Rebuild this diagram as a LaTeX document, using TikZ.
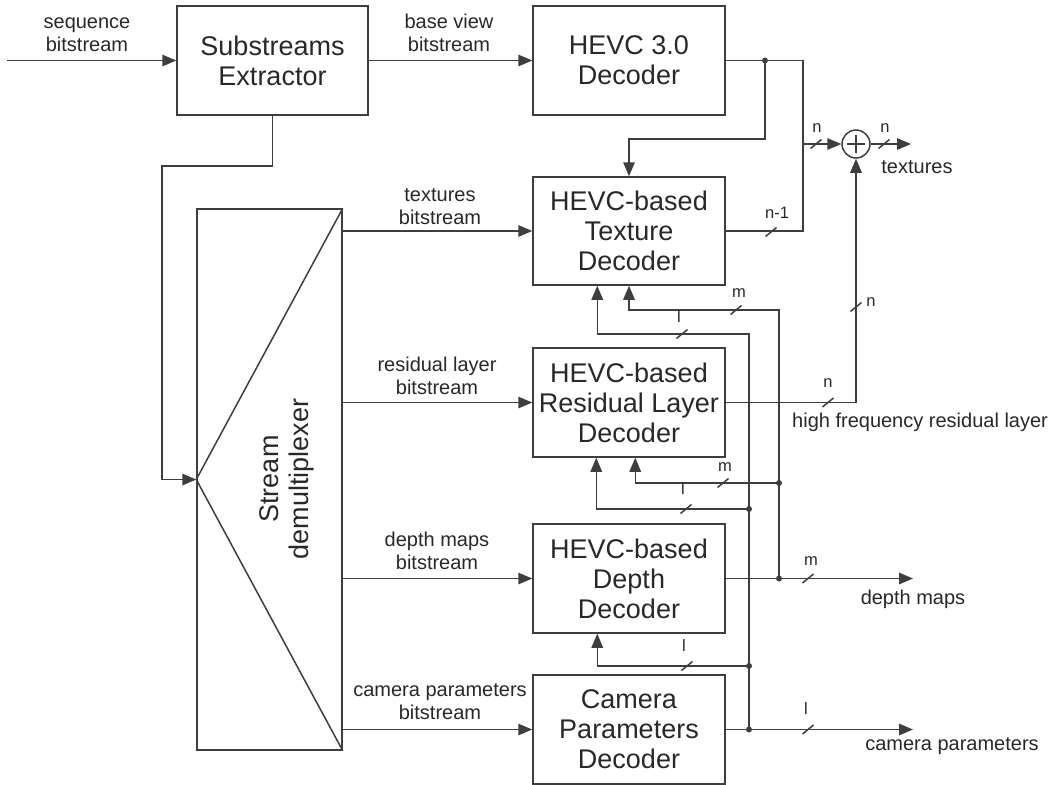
\documentclass[tikz,border=0pt]{standalone}
\usepackage{fontspec}
\setmainfont{Liberation Sans}
\usetikzlibrary{arrows.meta,calc}
\definecolor{ln}{RGB}{62,62,62}
\definecolor{tx}{RGB}{40,40,40}
\newcommand\busmark[1]{\draw[wire] ($(#1)+(-5.5,4.5)$) -- ($(#1)+(5.5,-4.5)$);}
\begin{document}
\begin{tikzpicture}[x=1pt,y=-1pt,
  wire/.style={draw=ln,line width=1.5pt},
  arr/.style={wire,-{Triangle[length=14pt,width=11.5pt]}},
  box/.style={draw=ln,line width=1.5pt,minimum width=192pt,minimum height=109pt,align=center,text=tx,font=\fontsize{27}{30}\selectfont,inner sep=0pt},
  lab/.style={text=tx,font=\fontsize{20}{23.5}\selectfont,align=center,inner sep=0pt},
  labone/.style={text=tx,font=\fontsize{20}{23.5}\selectfont,inner sep=0pt,text height=0.7em,text depth=0.2em},
  tiny/.style={text=tx,font=\fontsize{16.5}{18}\selectfont,inner sep=0pt,text height=0.7em,text depth=0.2em},
  dot/.style={circle,fill=ln,inner sep=0pt,minimum size=6pt}]
\useasboundingbox (0,0) rectangle (1061,785);

% blocks
\node[box,minimum width=191pt] (sub) at (272.5,60.5) {Substreams\\Extractor};
\node[box] (hevc) at (629,60.5) {HEVC 3.0\\Decoder};
\node[box,minimum height=108pt] (tex) at (629,231) {HEVC-based\\Texture\\Decoder};
\node[box] (res) at (629,402.5) {HEVC-based\\Residual Layer\\Decoder};
\node[box] (dep) at (629,578.5) {HEVC-based\\Depth\\Decoder};
\node[box] (cam) at (629,729.5) {Camera\\Parameters\\Decoder};
\node[draw=ln,line width=1.5pt,minimum width=145pt,minimum height=541pt,inner sep=0pt] (dmx) at (269.5,479.5) {};
\draw[wire] (dmx.north east) -- (dmx.west) -- (dmx.south east);
\node[rotate=90,align=center,text=tx,font=\fontsize{27}{30}\selectfont,inner sep=0pt] (dtx) at (287,479) {\strut Stream\\\strut demultiplexer};
\node[circle,draw=ln,line width=1.5pt,minimum size=28pt,inner sep=0pt] (sum) at (856,144) {};
\draw[wire] ($(sum.center)+(-9,0)$) -- ($(sum.center)+(9,0)$);
\draw[wire] ($(sum.center)+(0,-9)$) -- ($(sum.center)+(0,9)$);

% junction points
\coordinate (in) at (7,60.5);
\coordinate (k1) at (162,166);
\coordinate (h1) at (765,60.5);
\coordinate (h2) at (803,60.5);
\coordinate (h3) at (765,139);
\coordinate (s1) at (803,144);
\coordinate (tout) at (911,144);
\coordinate (r1) at (856,402.5);
\coordinate (dd) at (779,578.5);
\coordinate (dout) at (913,578.5);
\coordinate (cd) at (749,729.5);
\coordinate (cout) at (913,729.5);
\coordinate (mt) at (779,310);
\coordinate (lt) at (749,334);
\coordinate (mr) at (779,483);
\coordinate (lr) at (749,509);
\coordinate (ld) at (749,666);

% connectors
\draw[arr] (in) -- (sub.west);
\draw[arr] (sub.east) -- (hevc.west);
\draw[arr] (sub.south) |- (k1) |- (dmx.west);
\draw[arr] (dmx.east |- tex.west) -- (tex.west);
\draw[arr] (dmx.east |- res.west) -- (res.west);
\draw[arr] (dmx.east |- dep.west) -- (dep.west);
\draw[arr] (dmx.east |- cam.west) -- (cam.west);
\draw[wire] (hevc.east) -- (h2) |- (tex.east);
\draw[arr] (h1) -- (h3) -| (tex.north);
\draw[arr] (s1) -- (sum.west);
\draw[arr] (sum.east) -- (tout);
\draw[arr] (res.east) -- (r1) -- (sum.south);
\draw[arr] (dep.east) -- (dout);
\draw[arr] (cam.east) -- (cout);
\draw[arr] (dd) -- (mt) -| (tex.south);
\draw[arr] (cd) -- (lt) -| ($(tex.south west)+(65,0)$);
\draw[arr] (mr) -| ($(res.south west)+(103,0)$);
\draw[arr] (lr) -| ($(res.south west)+(64,0)$);
\draw[arr] (ld) -| ($(dep.south west)+(65,0)$);

% dots
\node[dot] (dt1) at (h1) {};
\node[dot] (dt2) at (dd) {};
\node[dot] (dt3) at (cd) {};
\node[dot] (dt4) at (mr) {};
\node[dot] (dt5) at (lr) {};
\node[dot] (dt6) at (ld) {};

% bus marks
\busmark{816,144}
\busmark{884,144}
\busmark{771,232}
\busmark{736,310}
\busmark{682,334}
\busmark{856,307}
\busmark{828,402.5}
\busmark{723,483}
\busmark{686,509}
\busmark{808,578.5}
\busmark{687,666}
\busmark{808,729.5}

% bus labels
\node[tiny] (b1) at (817,130) {n};
\node[tiny] (b2) at (885,130) {n};
\node[tiny] (b3) at (777,216) {n-1};
\node[tiny] (b4) at (739,295) {m};
\node[tiny] (b5) at (679,320) {l};
\node[tiny] (b6) at (871,304) {n};
\node[tiny] (b7) at (828,385) {n};
\node[tiny] (b8) at (725,469) {m};
\node[tiny] (b9) at (683,492) {l};
\node[tiny] (b10) at (811,563) {m};
\node[tiny] (b11) at (684,649) {l};
\node[tiny] (b12) at (806,712) {l};

% stream labels
\node[lab] (lseq) at (87,35.5) {\strut sequence\\\strut bitstream};
\node[lab] (lbase) at (449,35.5) {\strut base view\\\strut bitstream};
\node[lab] (ltex) at (440,208.5) {\strut textures\\\strut bitstream};
\node[lab] (lres) at (437,378.5) {\strut residual layer\\\strut bitstream};
\node[lab] (ldep) at (437,553.5) {\strut depth maps\\\strut bitstream};
\node[lab] (lcam) at (440,703.5) {\strut camera parameters\\\strut bitstream};
\node[labone,anchor=west] (lhf) at (792,425) {high frequency residual layer};
\node[labone] (ltx) at (917,171) {textures};
\node[labone] (ldm) at (913,602) {depth maps};
\node[labone] (lcp) at (952,748) {camera parameters};
\end{tikzpicture}
\end{document}
